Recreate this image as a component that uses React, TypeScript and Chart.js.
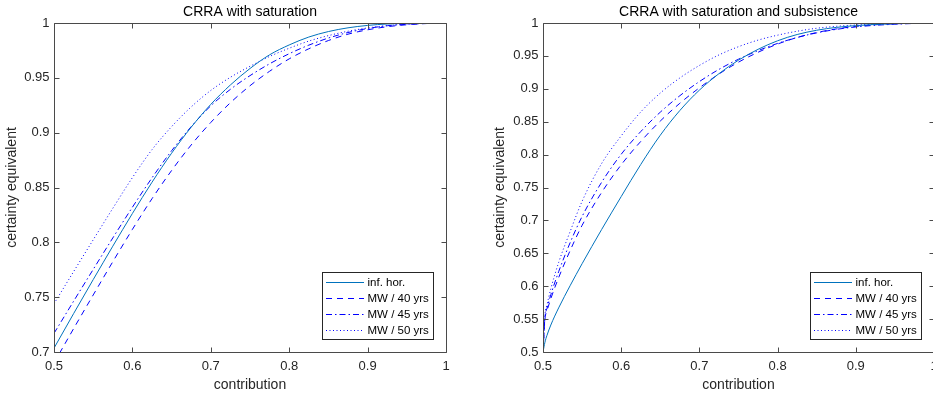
import { useEffect, useRef } from 'react';
import { Chart, registerables } from 'chart.js';

Chart.register(...registerables);

const FONT = "'Liberation Sans', Arial, Helvetica, sans-serif";
const AXIS_COLOR = '#4a4a4a';
const TEXT_COLOR = '#262626';

// ---------- data ----------
const seriesLabels = ['inf. hor.', 'MW / 40 yrs', 'MW / 45 yrs', 'MW / 50 yrs'];

// Left panel: CRRA with saturation
const leftContribution = [
  0.5, 0.525, 0.55, 0.575, 0.6, 0.625, 0.65, 0.675, 0.7, 0.725, 0.75,
  0.775, 0.8, 0.825, 0.85, 0.875, 0.9, 0.925, 0.95, 0.975, 1.0,
];
const leftInfHor = [
  0.7035, 0.735, 0.766, 0.7965, 0.8263, 0.8548, 0.8813, 0.905, 0.9258, 0.9435, 0.9585,
  0.971, 0.98, 0.9872, 0.9922, 0.9956, 0.9978, 0.9991, 0.9997, 0.99995, 1.0,
];
const leftMW40 = [
  0.69, 0.7213, 0.752, 0.7823, 0.8118, 0.8398, 0.8655, 0.8888, 0.9093, 0.9273, 0.9428,
  0.956, 0.9673, 0.9765, 0.984, 0.9898, 0.9938, 0.9966, 0.9984, 0.9995, 1.0,
];
const leftMW45 = [
  0.717, 0.7463, 0.7753, 0.804, 0.832, 0.8588, 0.8835, 0.9055, 0.9245, 0.9395, 0.952,
  0.9628, 0.972, 0.9798, 0.9863, 0.9913, 0.995, 0.9975, 0.9988, 0.9996, 1.0,
];
const leftMW50 = [
  0.744, 0.7733, 0.8023, 0.831, 0.859, 0.8845, 0.9055, 0.9235, 0.9385, 0.9505, 0.9605,
  0.9695, 0.977, 0.9835, 0.9885, 0.9925, 0.9955, 0.9976, 0.999, 0.9997, 1.0,
];

// Right panel: CRRA with saturation and subsistence
const rightContribution = [
  0.5, 0.5025, 0.505, 0.51, 0.52, 0.535, 0.55, 0.575, 0.6, 0.625, 0.65, 0.675,
  0.7, 0.725, 0.75, 0.775, 0.8, 0.825, 0.85, 0.875, 0.9, 0.925, 0.95, 0.975, 1.0,
];
const rightInfHor = [
  0.5, 0.515, 0.525, 0.541, 0.567, 0.6015, 0.6342, 0.6862, 0.7362, 0.785, 0.8295, 0.867,
  0.898, 0.923, 0.9435, 0.96, 0.973, 0.9825, 0.989, 0.9933, 0.996, 0.9978, 0.999, 0.9997, 1.0,
];
const rightMW40 = [
  0.5, 0.55, 0.562, 0.581, 0.613, 0.655, 0.6925, 0.7425, 0.7845, 0.82, 0.851, 0.878,
  0.9015, 0.9225, 0.9405, 0.9555, 0.968, 0.978, 0.9855, 0.991, 0.9948, 0.9973, 0.9988, 0.9996, 1.0,
];
const rightMW45 = [
  0.5, 0.553, 0.566, 0.587, 0.622, 0.667, 0.706, 0.758, 0.8005, 0.835, 0.8645, 0.8895,
  0.911, 0.9295, 0.945, 0.958, 0.969, 0.978, 0.985, 0.9903, 0.994, 0.9965, 0.9981, 0.9993, 1.0,
];
const rightMW50 = [
  0.5, 0.556, 0.571, 0.596, 0.636, 0.684, 0.729, 0.7865, 0.8285, 0.8648, 0.8935, 0.9165,
  0.9355, 0.9515, 0.964, 0.974, 0.9815, 0.9875, 0.992, 0.995, 0.997, 0.9983, 0.9991, 0.9996, 1.0,
];

const xTickLabels = ['0.5', '0.6', '0.7', '0.8', '0.9', '1'];
const leftYTickLabels = ['0.7', '0.75', '0.8', '0.85', '0.9', '0.95', '1'];
const rightYTickLabels = ['0.5', '0.55', '0.6', '0.65', '0.7', '0.75', '0.8', '0.85', '0.9', '0.95', '1'];

// ---------- styles ----------
const seriesStyles = [
  { color: '#0072BD', dash: [] as number[] },
  { color: '#0000FF', dash: [6, 5] },
  { color: '#0000FF', dash: [6, 3, 1.5, 3] },
  { color: '#0000FF', dash: [1, 2.5] },
];

const labelFor = (labels: string[]) => (v: number | string) => {
  const n = Number(v);
  const f = labels.find((t) => Math.abs(Number(t) - n) < 1e-6);
  return f ?? '';
};

const boxPlugin = {
  id: 'matlabBox',
  afterDatasetsDraw(chart: any) {
    const { ctx, chartArea: a, scales } = chart;
    const xs = scales.x;
    const ys = scales.y;
    const L = Math.round(a.left) + 0.5;
    const R = Math.round(a.right) + 0.5;
    const T = Math.round(a.top) + 0.5;
    const B = Math.round(a.bottom) + 0.5;
    const tl = 5;
    ctx.save();
    ctx.strokeStyle = AXIS_COLOR;
    ctx.lineWidth = 1;
    ctx.setLineDash([]);
    ctx.beginPath();
    ctx.rect(L, T, R - L, B - T);
    xs.ticks.forEach((t: any) => {
      const p = Math.round(xs.getPixelForValue(t.value)) + 0.5;
      ctx.moveTo(p, B);
      ctx.lineTo(p, B - tl);
      ctx.moveTo(p, T);
      ctx.lineTo(p, T + tl);
    });
    ys.ticks.forEach((t: any) => {
      const p = Math.round(ys.getPixelForValue(t.value)) + 0.5;
      ctx.moveTo(L, p);
      ctx.lineTo(L + tl, p);
      ctx.moveTo(R, p);
      ctx.lineTo(R - tl, p);
    });
    ctx.stroke();
    ctx.restore();
  },
  afterDraw(chart: any) {
    const { ctx, chartArea: a } = chart;
    const ds = chart.data.datasets;
    ctx.save();
    ctx.font = `11.5px ${FONT}`;
    let maxW = 0;
    ds.forEach((d: any) => {
      maxW = Math.max(maxW, ctx.measureText(d.label).width);
    });
    const rowH = 16;
    const w = Math.round(45.5 + maxW + 4.5);
    const h = ds.length * rowH + 3;
    const right = Math.round(a.right) - 13;
    const bottom = Math.round(a.bottom) - 13;
    const left = right - w;
    const top = bottom - h;
    ctx.fillStyle = '#ffffff';
    ctx.fillRect(left, top, w, h);
    ctx.strokeStyle = TEXT_COLOR;
    ctx.lineWidth = 1;
    ctx.setLineDash([]);
    ctx.strokeRect(left + 0.5, top + 0.5, w, h);
    ds.forEach((d: any, i: number) => {
      const cy = top + 10.5 + i * rowH;
      ctx.beginPath();
      ctx.strokeStyle = d.borderColor;
      ctx.lineWidth = d.borderWidth;
      ctx.setLineDash(d.borderDash || []);
      ctx.moveTo(left + 4, cy);
      ctx.lineTo(left + 42, cy);
      ctx.stroke();
      ctx.setLineDash([]);
      ctx.fillStyle = '#000000';
      ctx.textAlign = 'left';
      ctx.textBaseline = 'middle';
      ctx.fillText(d.label, left + 45.5, cy);
    });
    ctx.restore();
  },
};

function makeConfig(opts: {
  title: string;
  xs: number[];
  series: number[][];
  yMin: number;
  yTicks: string[];
  yAxisWidth: number;
  padRight: number;
}): any {
  return {
    type: 'line',
    data: {
      datasets: opts.series.map((ys, i) => ({
        label: seriesLabels[i],
        data: opts.xs.map((x, j) => ({ x, y: ys[j] })),
        borderColor: seriesStyles[i].color,
        borderDash: seriesStyles[i].dash,
        borderWidth: 1,
        pointRadius: 0,
        fill: false,
        cubicInterpolationMode: 'monotone',
      })),
    },
    options: {
      responsive: false,
      animation: false,
      devicePixelRatio: 1,
      events: [],
      layout: { padding: { left: 0, right: opts.padRight, top: 0, bottom: 0 } },
      plugins: {
        legend: { display: false },
        tooltip: { enabled: false },
        title: {
          display: true,
          text: opts.title,
          fullSize: false,
          color: '#000000',
          font: { size: 14, weight: 'normal', family: FONT },
          padding: { top: 3.6, bottom: 2.6 },
        },
      },
      scales: {
        x: {
          type: 'linear',
          min: 0.5,
          max: 1,
          grid: { display: false, drawTicks: false },
          border: { display: false },
          ticks: {
            stepSize: 0.1,
            autoSkip: false,
            maxRotation: 0,
            padding: 7,
            color: TEXT_COLOR,
            font: { size: 13, family: FONT },
            callback: labelFor(xTickLabels),
          },
          title: {
            display: true,
            text: 'contribution',
            color: TEXT_COLOR,
            font: { size: 14, family: FONT },
            padding: { top: 0, bottom: 3 },
          },
          afterFit: (s: any) => {
            s.height = 45;
          },
        },
        y: {
          type: 'linear',
          min: opts.yMin,
          max: 1,
          grid: { display: false, drawTicks: false },
          border: { display: false },
          ticks: {
            stepSize: 0.05,
            autoSkip: false,
            padding: 4.5,
            color: TEXT_COLOR,
            font: { size: 13, family: FONT },
            callback: labelFor(opts.yTicks),
          },
          title: {
            display: true,
            text: 'certainty equivalent',
            color: TEXT_COLOR,
            font: { size: 14, family: FONT },
            padding: { top: 4, bottom: 4 },
          },
          afterFit: (s: any) => {
            s.width = opts.yAxisWidth;
          },
        },
      },
    },
    plugins: [boxPlugin],
  };
}

export default function App() {
  const leftRef = useRef<HTMLCanvasElement>(null);
  const rightRef = useRef<HTMLCanvasElement>(null);

  useEffect(() => {
    const c1 = new Chart(
      leftRef.current as HTMLCanvasElement,
      makeConfig({
        title: 'CRRA with saturation',
        xs: leftContribution,
        series: [leftInfHor, leftMW40, leftMW45, leftMW50],
        yMin: 0.7,
        yTicks: leftYTickLabels,
        yAxisWidth: 54,
        padRight: 17,
      })
    );
    const c2 = new Chart(
      rightRef.current as HTMLCanvasElement,
      makeConfig({
        title: 'CRRA with saturation and subsistence',
        xs: rightContribution,
        series: [rightInfHor, rightMW40, rightMW45, rightMW50],
        yMin: 0.5,
        yTicks: rightYTickLabels,
        yAxisWidth: 55,
        padRight: 24,
      })
    );
    return () => {
      c1.destroy();
      c2.destroy();
    };
  }, []);

  return (
    <div
      style={{
        position: 'fixed',
        left: 0,
        top: 0,
        width: 933,
        height: 397,
        overflow: 'hidden',
        background: '#ffffff',
      }}
    >
      <canvas ref={leftRef} width={463} height={397} style={{ position: 'absolute', left: 0, top: 0 }} />
      <canvas ref={rightRef} width={470} height={397} style={{ position: 'absolute', left: 488, top: 0 }} />
    </div>
  );
}
